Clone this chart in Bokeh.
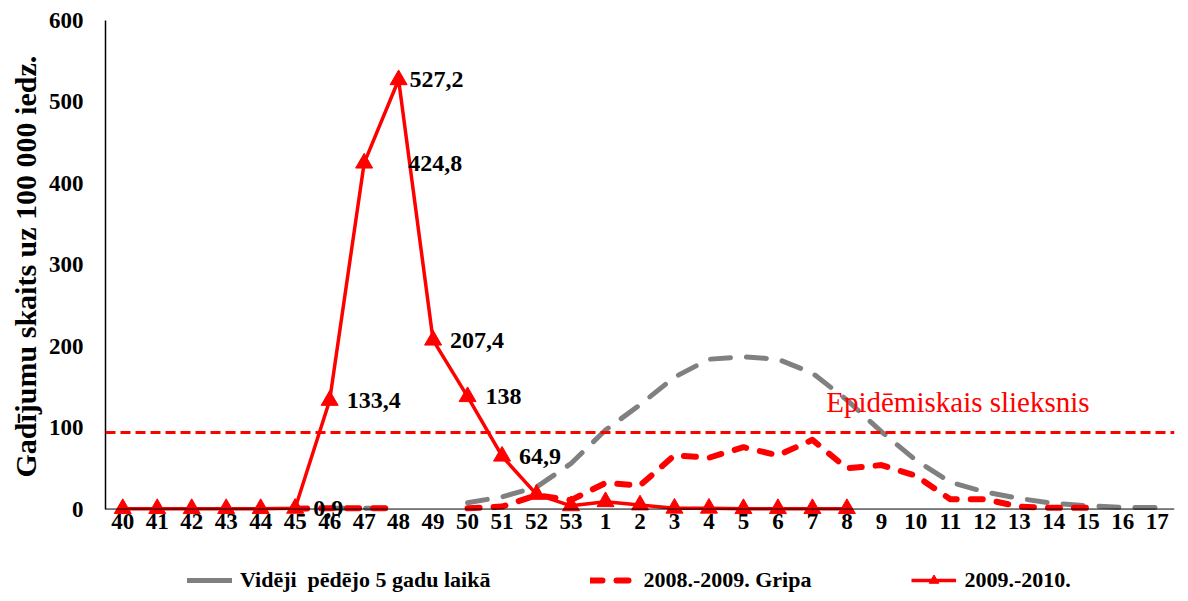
import math
from bokeh.plotting import figure
from bokeh.models import (FactorRange, Range1d, Span, Label, Legend, LegendItem,
                          ColumnDataSource, FixedTicker, Title)
from bokeh.core.properties import value
from bokeh.embed import file_html
from bokeh.resources import INLINE

nan = float("nan")

# ---- data -------------------------------------------------------------
weeks = [str(w) for w in range(40, 54)] + [str(w) for w in range(1, 18)]

avg_5yr = [nan, nan, nan, nan, nan, nan, 1, 1, 1, nan, 7.7, 15, 27, 56,
           97, 128, 162, 184, 187, 184, 167, 134, 95, 60, 33, 21, 13, 7, 4, 2, 2]

flu_0809 = [nan, nan, nan, nan, nan, 0.5, 1, 1, 1, nan, 1, 3, 17, 11,
            32, 29, 66, 63, 76, 66, 85, 50, 54, 41, 12, 12, 3, 1.5, 1.5, nan, nan]

flu_0910 = [0.5, 0.5, 0.5, 0.5, 0.5, 0.9, 133.4, 424.8, 527.2, 207.4, 138, 64.9, 18, 4,
            9, 5, 1, 1, 0.5, 0.5, 0.5, 0.5, nan, nan, nan, nan, nan, nan, nan, nan, nan]

label_weeks = ["45", "46", "47", "48", "49", "50", "51"]
label_values = [0.9, 133.4, 424.8, 527.2, 207.4, 138, 64.9]
label_texts = [f"{v:g}".replace(".", ",") for v in label_values]

threshold = 94
threshold_text = "Epidēmiskais slieksnis"

y_ticks = [0, 100, 200, 300, 400, 500, 600]
y_max = 600
y_title = "Gadījumu skaits uz 100 000 iedz."

series_names = ["Vidēji  pēdējo 5 gadu laikā", "2008.-2009. Gripa", "2009.-2010."]

# ---- style ------------------------------------------------------------
label_offsets = [18, 17, 44, 11, 17, 18, 17]
FONT = "Liberation Serif"
RED = "#FF0000"
GRAY = "#808080"

# frame runs from the top to the bottom of the figure; the value axis
# only covers 0..600, the space under zero holds week labels and legend
p = figure(x_range=FactorRange(factors=weeks), y_range=Range1d(-103.7, y_max),
           width=1177, height=593, output_backend="svg", toolbar_location=None,
           min_border_left=105, min_border_right=3, min_border_top=20,
           min_border_bottom=0)
p.grid.visible = False
p.outline_line_color = None
p.xaxis.visible = False

# x axis line at zero
p.add_layout(Span(location=0, dimension="width", line_color="black", line_width=1))

g1 = p.line(weeks, avg_5yr, line_color=GRAY, line_width=5, line_dash="20 16",
            line_cap="round", line_join="round")
g2 = p.line(weeks, flu_0809, line_color=RED, line_width=6, line_dash="12 14",
            line_cap="round", line_join="round")
g3 = p.line(weeks, flu_0910, line_color=RED, line_width=3.5, line_join="round")
g4 = p.scatter(weeks, flu_0910, marker="triangle", size=17, color=RED)

# legend-only swatch for the average line (drawn solid in the legend)
g1_key = p.line(weeks[:1], [nan], line_color=GRAY, line_width=5, line_cap="round")

p.add_layout(Span(location=threshold, dimension="width", line_color=RED,
                  line_width=3, line_dash="10 5"))

p.add_layout(Label(x=20.9, y=131, text=threshold_text, text_color=RED,
                   text_font=FONT, text_font_size="29px",
                   text_baseline="alphabetic", text_align="left"))

src = ColumnDataSource(dict(x=label_weeks, y=label_values, text=label_texts,
                            xo=label_offsets))
p.text(x="x", y="y", text="text", x_offset="xo", source=src,
       text_font=value(FONT), text_font_style="bold", text_font_size="24px",
       text_baseline="middle", text_align="left", text_color="black")

# week labels under the zero line
wsrc = ColumnDataSource(dict(x=weeks, y=[0] * len(weeks), text=weeks))
p.text(x="x", y="y", text="text", source=wsrc, y_offset=5,
       text_font=value(FONT), text_font_style="bold", text_font_size="23px",
       text_baseline="top", text_align="center", text_color="black")

# y axis
ya = p.yaxis[0]
ya.ticker = FixedTicker(ticks=y_ticks)
ya.bounds = (0, y_max)
ya.major_tick_out = 0
ya.major_tick_in = 0
ya.minor_tick_line_color = None
ya.axis_line_width = 1.5
ya.axis_line_color = "black"
ya.major_label_standoff = 22
ya.major_label_text_font = FONT
ya.major_label_text_font_style = "bold"
ya.major_label_text_font_size = "23px"
ya.major_label_text_color = "black"

# axis title, placed along the 0..600 span
p.add_layout(Title(text=y_title, align="left", offset=116, standoff=8,
                   text_font=FONT, text_font_style="bold", text_font_size="30px",
                   text_color="black"), "left")

legend = Legend(items=[LegendItem(label=series_names[0], renderers=[g1_key]),
                       LegendItem(label=series_names[1], renderers=[g2]),
                       LegendItem(label=series_names[2], renderers=[g3, g4])],
                orientation="horizontal", location=(82, 0),
                glyph_width=45, glyph_height=24, label_standoff=8, spacing=100,
                padding=0, margin=0, border_line_color=None,
                background_fill_alpha=0,
                label_text_font=FONT, label_text_font_style="bold",
                label_text_font_size="22px", label_text_color="black")
p.add_layout(legend, "center")

open("out.html", "w").write(file_html(p, INLINE))
